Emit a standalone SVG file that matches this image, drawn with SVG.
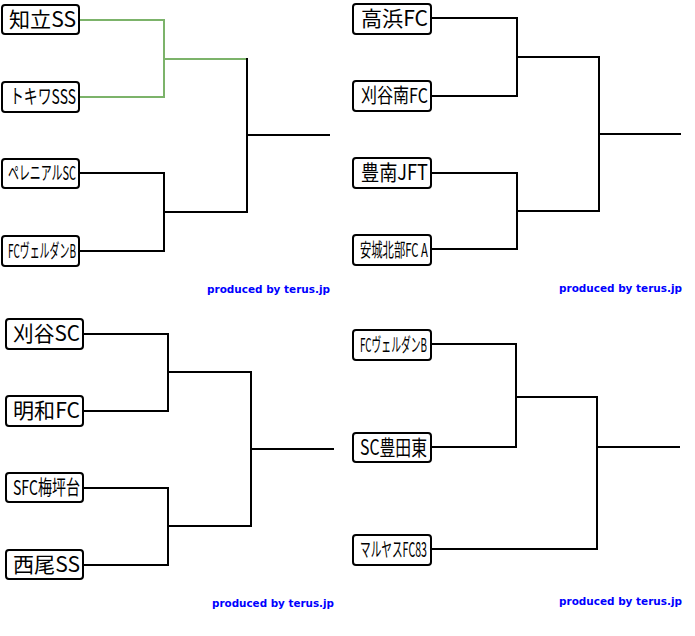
<svg xmlns="http://www.w3.org/2000/svg" width="695" height="636" viewBox="0 0 695 636">
<style>
.box{fill:#fff;stroke:#000;stroke-width:2}
.t{font-family:"Noto Sans CJK JP","DejaVu Sans",sans-serif;fill:#000}
.l{font-size:21px}
.m{font-size:20px}
.s{font-size:19px}
.ln{fill:none;stroke:#000;stroke-width:2;stroke-linecap:square}
.win{fill:none;stroke:#7cb36a;stroke-width:2;stroke-linecap:square}
.cr{font-family:"DejaVu Sans",Verdana,sans-serif;font-weight:bold;font-size:11px;fill:#0000ff}
</style>
<rect width="695" height="636" fill="#fff"/>
<g id="connectors">
  <path class="win" d="M80,20 H164 V97 H80 M164,59 H247"/>
  <path class="ln" d="M80,173 H164 V251 H80 M164,212 H247 M247,59 V212 M247,135 H329"/>
  <path class="ln" d="M432,18 H517 V96 H432 M517,57 H599 M432,173 H517 V249 H432 M517,211 H599 M599,57 V211 M599,134 H680"/>
  <path class="ln" d="M84,334 H168 V411 H84 M168,372 H251 M84,488 H168 V565 H84 M168,526 H251 M251,372 V526 M251,449 H333"/>
  <path class="ln" d="M432,344 H516 V447 H432 M516,397 H597 M432,549 H597 V397 M597,447 H679"/>
</g>
<g id="n1"><rect class="box" x="2" y="5" width="77" height="29" rx="3"/><text class="t l" x="9" y="27" textLength="67" lengthAdjust="spacingAndGlyphs">知立SS</text></g>
<g id="n2"><rect class="box" x="2" y="82" width="77" height="30" rx="3"/><text class="t m" x="10" y="104" textLength="66" lengthAdjust="spacingAndGlyphs">トキワSSS</text></g>
<g id="n3"><rect class="box" x="2" y="159" width="77" height="29" rx="3"/><text class="t s" x="8" y="180" textLength="68" lengthAdjust="spacingAndGlyphs">ペレニアルSC</text></g>
<g id="n4"><rect class="box" x="2" y="236" width="77" height="30" rx="3"/><text class="t s" x="8" y="258" textLength="68" lengthAdjust="spacingAndGlyphs">FCヴェルダンB</text></g>
<g id="n5"><rect class="box" x="353" y="4" width="78" height="30" rx="3"/><text class="t l" x="361" y="26" textLength="67" lengthAdjust="spacingAndGlyphs">高浜FC</text></g>
<g id="n6"><rect class="box" x="353" y="81" width="78" height="30" rx="3"/><text class="t m" x="361" y="103" textLength="67" lengthAdjust="spacingAndGlyphs">刈谷南FC</text></g>
<g id="n7"><rect class="box" x="353" y="158" width="78" height="30" rx="3"/><text class="t l" x="361" y="180" textLength="67" lengthAdjust="spacingAndGlyphs">豊南JFT</text></g>
<g id="n8"><rect class="box" x="353" y="235" width="78" height="30" rx="3"/><text class="t s" x="360" y="257" textLength="68" lengthAdjust="spacingAndGlyphs">安城北部FC A</text></g>
<g id="n9"><rect class="box" x="6" y="319" width="77" height="30" rx="3"/><text class="t l" x="13" y="341" textLength="67" lengthAdjust="spacingAndGlyphs">刈谷SC</text></g>
<g id="n10"><rect class="box" x="6" y="396" width="77" height="30" rx="3"/><text class="t l" x="13" y="418" textLength="67" lengthAdjust="spacingAndGlyphs">明和FC</text></g>
<g id="n11"><rect class="box" x="6" y="473" width="77" height="29" rx="3"/><text class="t m" x="13" y="495" textLength="67" lengthAdjust="spacingAndGlyphs">SFC梅坪台</text></g>
<g id="n12"><rect class="box" x="6" y="550" width="77" height="29" rx="3"/><text class="t l" x="13" y="572" textLength="67" lengthAdjust="spacingAndGlyphs">西尾SS</text></g>
<g id="n13"><rect class="box" x="353" y="330" width="78" height="30" rx="3"/><text class="t s" x="360" y="352" textLength="67" lengthAdjust="spacingAndGlyphs">FCヴェルダンB</text></g>
<g id="n14"><rect class="box" x="353" y="433" width="78" height="29" rx="3"/><text class="t l" x="360" y="455" textLength="67" lengthAdjust="spacingAndGlyphs">SC豊田東</text></g>
<g id="n15"><rect class="box" x="353" y="535" width="78" height="30" rx="3"/><text class="t m" x="360" y="557" textLength="67" lengthAdjust="spacingAndGlyphs">マルヤスFC83</text></g>
<g id="credits">
<text class="cr" x="207" y="293" textLength="123" lengthAdjust="spacingAndGlyphs">produced by terus.jp</text>
<text class="cr" x="559" y="292" textLength="123" lengthAdjust="spacingAndGlyphs">produced by terus.jp</text>
<text class="cr" x="212" y="607" textLength="122" lengthAdjust="spacingAndGlyphs">produced by terus.jp</text>
<text class="cr" x="559" y="605" textLength="123" lengthAdjust="spacingAndGlyphs">produced by terus.jp</text>
</g>
</svg>
